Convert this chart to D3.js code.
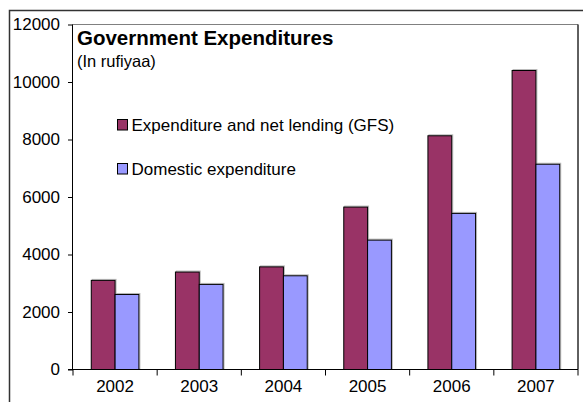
<!DOCTYPE html>
<html><head><meta charset="utf-8">
<script src="https://cdn.jsdelivr.net/npm/d3@7"></script>
<style>body{margin:0;background:#fff}svg{display:block}text{font-family:"Liberation Sans",Arial,sans-serif}</style>
</head><body>
<svg id="c" width="583" height="402"></svg>
<script>
const categories = ["2002","2003","2004","2005","2006","2007"];
const seriesNames = ["Expenditure and net lending (GFS)","Domestic expenditure"];
const expenditureNetLending = [3100, 3390, 3570, 5650, 8130, 10400];
const domesticExpenditure = [2610, 2960, 3260, 4500, 5430, 7140];
const yTicks = [0, 2000, 4000, 6000, 8000, 10000, 12000];
const colors = ["#993366", "#9999FF"];

const svg = d3.select("#c");
// outer frame
svg.append("path").attr("d","M9.5,402 V10.5 H583").attr("fill","none").attr("stroke","#333").attr("stroke-width",1.5);

const L = 73, R = 578, T = 24.5, B = 369.5;
const x = d3.scaleBand().domain(categories).range([L, R]).padding(0);
const y = d3.scaleLinear().domain([0, 12000]).range([B, T]);

// plot area border
svg.append("path").attr("d",`M${L},${T} H${R} V${B}`).attr("fill","none").attr("stroke","#808080").attr("stroke-width",1);
svg.append("line").attr("x1",R).attr("x2",R).attr("y1",T).attr("y2",B).attr("stroke","#000");

const data = categories.map((c,i)=>({c, v:[expenditureNetLending[i], domesticExpenditure[i]]}));
const bw = x.bandwidth()*0.283;
const g = svg.append("g");
data.forEach(d=>{
  const x0 = x(d.c) + (x.bandwidth() - 2*bw)/2;
  d.v.forEach((v,j)=>{
    g.append("rect").attr("x", x0 + j*bw + 1).attr("y", y(v) - 1).attr("width", bw).attr("height", y(0)-y(v))
      .attr("fill", "none").attr("stroke","#bbb").attr("stroke-width",1);
  });
  d.v.forEach((v,j)=>{
    g.append("rect").attr("x", x0 + j*bw).attr("y", y(v)).attr("width", bw).attr("height", y(0)-y(v))
      .attr("fill", colors[j]).attr("stroke","#000").attr("stroke-width",1);
  });
});

// y axis
const ya = svg.append("g").attr("transform",`translate(${L},0)`)
  .call(d3.axisLeft(y).tickValues(yTicks).tickSize(5).tickPadding(8).tickFormat(d3.format("d")));
ya.select(".domain").attr("d",`M-0.5,${T}V${B}`).attr("stroke","#000");
ya.selectAll("text").attr("font-size",17).attr("fill","#000").style("font-family",'"Liberation Sans",Arial,sans-serif');
ya.selectAll(".tick line").attr("stroke","#000");

// x axis
const xa = svg.append("g").attr("transform",`translate(0,${B})`);
xa.append("line").attr("x1",L-5).attr("x2",R).attr("y1",0).attr("y2",0).attr("stroke","#000");
const bounds = categories.map(c=>x(c)).concat([R]);
xa.selectAll("line.t").data(bounds).join("line").attr("class","t")
  .attr("x1",d=>d).attr("x2",d=>d).attr("y1",0).attr("y2",6).attr("stroke","#000");
xa.selectAll("text").data(categories).join("text")
  .attr("x",d=>x(d)+x.bandwidth()/2).attr("y",22).attr("text-anchor","middle")
  .attr("font-size",17).attr("fill","#000").text(d=>d);

// title
svg.append("text").attr("x",77).attr("y",45).attr("font-size",20.5).attr("font-weight","bold").text("Government Expenditures");
svg.append("text").attr("x",77).attr("y",66.5).attr("font-size",16.5).text("(In rufiyaa)");

// legend
const lg = svg.append("g");
seriesNames.forEach((n,i)=>{
  const yy = 119.5 + i*44;
  lg.append("rect").attr("x",117.5).attr("y",yy).attr("width",10).attr("height",10.5)
    .attr("fill",colors[i]).attr("stroke","#000");
  lg.append("text").attr("x",131.5).attr("y",yy+11).attr("font-size",17).text(n);
});
</script>
</body></html>
